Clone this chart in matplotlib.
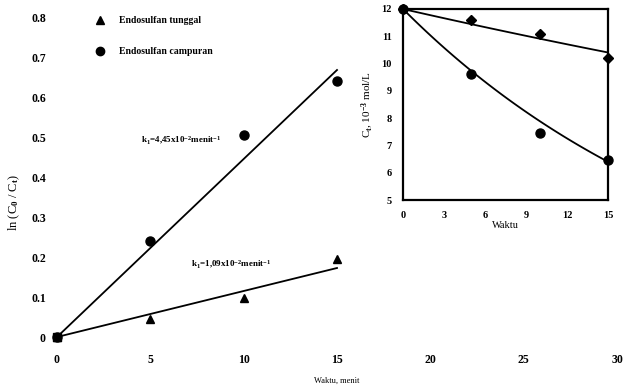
import numpy as np
import matplotlib
matplotlib.use("Agg")
import matplotlib.pyplot as plt

plt.rcParams['font.family'] = ['Liberation Serif', 'DejaVu Serif']
plt.rcParams['font.weight'] = 'bold'
plt.rcParams['mathtext.fontset'] = 'custom'
plt.rcParams['mathtext.rm'] = 'Liberation Serif:bold'
plt.rcParams['mathtext.it'] = 'Liberation Serif:bold'
plt.rcParams['mathtext.default'] = 'rm'

# main chart data
t = [0, 5, 10, 15]
ln_tunggal = [0.0, 0.045, 0.098, 0.195]
ln_campuran = [0.0, 0.24, 0.505, 0.64]
k_tunggal = 0.0115
k_campuran = 0.0445
x_ticks = [0, 5, 10, 15, 20, 25, 30]
y_ticks = [0, 0.1, 0.2, 0.3, 0.4, 0.5, 0.6, 0.7, 0.8]
y_ticklabels = ['0', '0.1', '0.2', '0.3', '0.4', '0.5', '0.6', '0.7', '0.8']

# inset data
c_tunggal = [12.0, 11.6, 11.1, 10.2]
c_campuran = [12.0, 9.6, 7.45, 6.45]
c0 = 12.0
kc_tunggal = 0.0095
kc_campuran = 0.0419
inset_xticks = [0, 3, 6, 9, 12, 15]
inset_yticks = [5, 6, 7, 8, 9, 10, 11, 12]

fig = plt.figure(figsize=(6.24, 3.87), dpi=100)
ax = fig.add_axes([57/624, 50/387, 560/624, 320/387])
ax.set_xlim(0, 30)
ax.set_ylim(0, 0.8)
for s in ax.spines.values():
    s.set_visible(False)
ax.tick_params(length=0, labelsize=8.5)
ax.set_xticks(x_ticks)
ax.set_xticklabels([str(v) for v in x_ticks])
ax.set_yticks(y_ticks)
ax.set_yticklabels(y_ticklabels)
ax.tick_params(axis='x', pad=12)
ax.tick_params(axis='y', pad=8)

tf = np.array([0, 15])
ax.plot(tf, k_campuran * tf, color='black', lw=1.3, clip_on=False)
ax.plot(tf, k_tunggal * tf, color='black', lw=1.3, clip_on=False)
ax.plot(t, ln_campuran, 'o', color='black', ms=6.5, clip_on=False, zorder=5)
ax.plot(t, ln_tunggal, '^', color='black', ms=6, clip_on=False, zorder=5)
ax.plot([0], [0], 's', color='black', ms=6, clip_on=False, zorder=6)

ax.set_ylabel('ln (C$_0$ / C$_t$)', fontsize=9, labelpad=0)
ax.yaxis.set_label_coords(-0.063, 0.42)
ax.set_xlabel('Waktu, menit', fontsize=6, labelpad=8)

ax.text(4.5, 0.485, 'k$_1$=4,45x10$^{-2}$menit$^{-1}$', fontsize=6.5)
ax.text(7.2, 0.175, 'k$_1$=1,09x10$^{-2}$menit$^{-1}$', fontsize=6.5)

# legend
ax.plot([2.3], [0.792], '^', color='black', ms=5.5, clip_on=False)
ax.text(3.3, 0.792, 'Endosulfan tunggal', fontsize=7, va='center')
ax.plot([2.3], [0.715], 'o', color='black', ms=6, clip_on=False)
ax.text(3.3, 0.715, 'Endosulfan campuran', fontsize=7, va='center')

# inset
ins = fig.add_axes([403/624, 187/387, 205/624, 191/387])
ins.set_xlim(0, 15)
ins.set_ylim(5, 12)
for s in ins.spines.values():
    s.set_linewidth(1.6)
ins.tick_params(length=0, labelsize=7.5, pad=8)
ins.set_xticks(inset_xticks)
ins.set_yticks(inset_yticks)
ti = np.linspace(0, 15, 100)
ins.plot(ti, c0 * np.exp(-kc_tunggal * ti), color='black', lw=1.3, clip_on=False)
ins.plot(ti, c0 * np.exp(-kc_campuran * ti), color='black', lw=1.3, clip_on=False)
ins.plot(t, c_tunggal, 'D', color='black', ms=5, clip_on=False, zorder=5)
ins.plot(t, c_campuran, 'o', color='black', ms=6.5, clip_on=False, zorder=5)
ins.set_xlabel('Waktu', fontsize=7.5, labelpad=1)
ins.set_ylabel('C$_t$, 10$^{-3}$ mol/L', fontsize=8, labelpad=4)

fig.savefig('out.png', dpi=100, facecolor='white')
